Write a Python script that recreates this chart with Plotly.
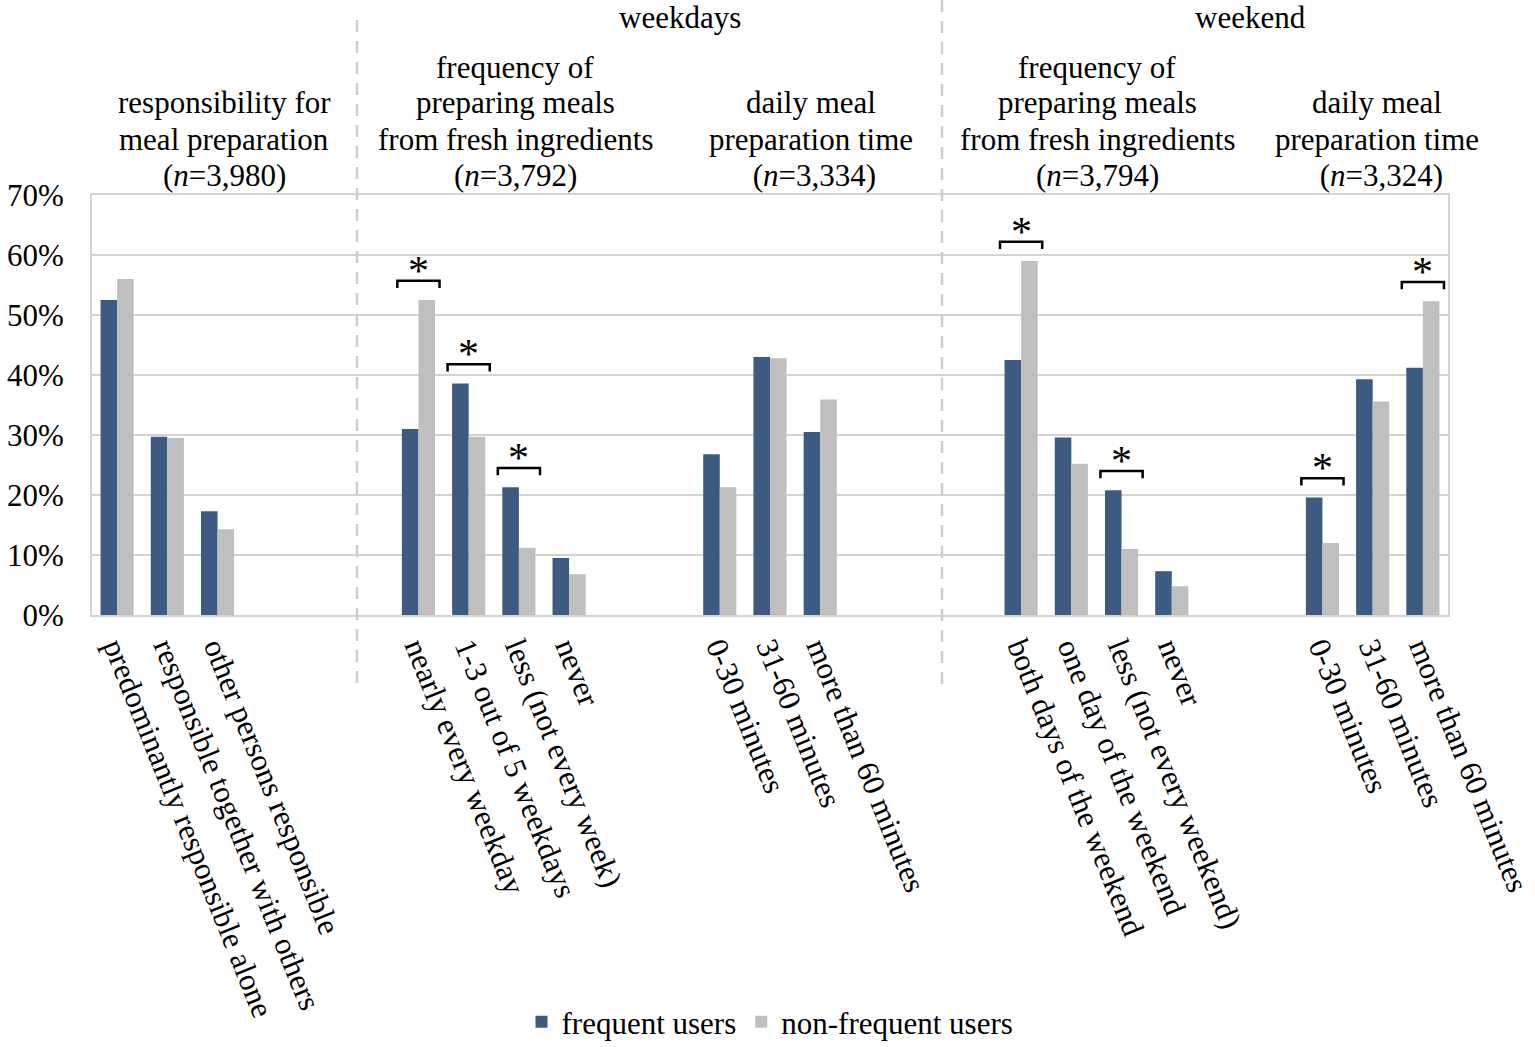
import plotly.graph_objects as go

# ---------------- data ----------------
categories = [
    ["predominantly responsible alone", "responsible together with others", "other persons responsible"],
    ["nearly every weekday", "1-3 out of 5 weekdays", "less (not every week)", "never"],
    ["0-30 minutes", "31-60 minutes", "more than 60 minutes"],
    ["both days of the weekend", "one day of the weekend", "less (not every weekend)", "never"],
    ["0-30 minutes", "31-60 minutes", "more than 60 minutes"],
]
frequent_users = [
    [52.5, 29.7, 17.3],
    [31.0, 38.6, 21.3, 9.5],
    [26.8, 43.0, 30.5],
    [42.5, 29.6, 20.8, 7.3],
    [19.6, 39.3, 41.2],
]
non_frequent_users = [
    [56.0, 29.5, 14.3],
    [52.5, 29.7, 11.2, 6.8],
    [21.3, 42.8, 35.9],
    [59.0, 25.2, 11.0, 4.8],
    [12.0, 35.6, 52.3],
]
significant = [
    [False, False, False],
    [True, True, True, False],
    [False, False, False],
    [True, False, True, False],
    [True, False, True],
]
group_titles = [
    ["responsibility for", "meal preparation", "(<i>n</i>=3,980)"],
    ["frequency of", "preparing meals", "from fresh ingredients", "(<i>n</i>=3,792)"],
    ["daily meal", "preparation time", " (<i>n</i>=3,334)"],
    ["frequency of", "preparing meals", "from fresh ingredients", "(<i>n</i>=3,794)"],
    ["daily meal", "preparation time", " (<i>n</i>=3,324)"],
]
period_titles = ["weekdays", "weekend"]
series_names = ["frequent users", "non-frequent users"]
y_ticks = [0, 10, 20, 30, 40, 50, 60, 70]

# ---------------- layout constants ----------------
W, H = 1535, 1047
PL, PR, PT, PB = 92, 1448, 195, 615
FONT = "Liberation Serif"
FS = 31
BLUE = "#3D5A80"
GREY = "#BFBFBF"
GRID = "#D3D3D3"
group_gaps = [0, 3, 2, 3, 2]  # empty slots before each group

def px_x(px):
    return (px - PL) / (PR - PL)

def px_y(py):
    return (PB - py) / (PB - PT)

# slot positions
positions = []
slot = 0
for g, cats in enumerate(categories):
    slot += group_gaps[g]
    pos = []
    for _ in cats:
        pos.append(slot)
        slot += 1
    positions.append(pos)
n_slots = slot

xs = [p for grp in positions for p in grp]
labels = [c for grp in categories for c in grp]
freq_flat = [v for grp in frequent_users for v in grp]
nonf_flat = [v for grp in non_frequent_users for v in grp]
sig_flat = [s for grp in significant for s in grp]

fig = go.Figure()
fig.add_trace(go.Bar(x=xs, y=freq_flat, name=series_names[0], marker=dict(color=BLUE, line=dict(width=0))))
fig.add_trace(go.Bar(x=xs, y=nonf_flat, name=series_names[1], marker=dict(color=GREY, line=dict(width=0))))

shapes = []
annotations = []

# significance brackets
for x, a, b, s in zip(xs, freq_flat, nonf_flat, sig_flat):
    if not s:
        continue
    top = max(a, b) + 3.2
    hw = 0.42
    shapes.append(dict(
        type="path", xref="x", yref="y",
        path=f"M {x-hw},{top-1.2} L {x-hw},{top} L {x+hw},{top} L {x+hw},{top-1.2}",
        line=dict(color="black", width=2.5),
    ))
    annotations.append(dict(
        x=x, y=top, xref="x", yref="y", text="*", showarrow=False,
        yanchor="middle", yshift=10, font=dict(family=FONT, size=42, color="black"),
    ))

# dashed separators
for xp, ytop in [(357, 20), (942, 0)]:
    shapes.append(dict(
        type="line", xref="paper", yref="paper",
        x0=px_x(xp), x1=px_x(xp), y0=px_y(ytop), y1=px_y(688),
        line=dict(color="#CCCCCC", width=2.5, dash="12px,9px"),
    ))

# group titles
title_centers = [224, 515, 811, 1097, 1377]
line_y = [67, 103, 139, 176]
for cx, lines in zip(title_centers, group_titles):
    offs = 4 - len(lines)
    for i, t in enumerate(lines):
        annotations.append(dict(
            x=px_x(cx), y=px_y(line_y[i + offs]), xref="paper", yref="paper",
            text=t, showarrow=False, xanchor="center", yanchor="middle",
            font=dict(family=FONT, size=FS, color="black"),
        ))
for cx, t in zip([680, 1250], period_titles):
    annotations.append(dict(
        x=px_x(cx), y=px_y(18), xref="paper", yref="paper",
        text=t, showarrow=False, xanchor="center", yanchor="middle",
        font=dict(family=FONT, size=FS, color="black"),
    ))

fig.update_layout(
    width=W, height=H,
    margin=dict(l=PL, r=W - PR, t=PT, b=H - PB, autoexpand=False),
    paper_bgcolor="white", plot_bgcolor="white",
    barmode="group", bargap=0.34, bargroupgap=0,
    font=dict(family=FONT, size=FS, color="black"),
    showlegend=True,
    legend=dict(orientation="h", x=px_x(770), y=px_y(1022), xanchor="center", yanchor="middle",
                font=dict(family=FONT, size=FS, color="black"), traceorder="normal"),
    shapes=shapes, annotations=annotations,
)
fig.update_xaxes(
    range=[-0.5, n_slots - 0.5], tickmode="array", tickvals=xs, ticktext=labels,
    tickangle=68, ticks="", showgrid=False, zeroline=False, automargin=False,
    ticklabeloverflow="allow",
    showline=True, mirror=True, linecolor=GRID, linewidth=2,
    tickfont=dict(family=FONT, size=FS, color="black"),
)
fig.update_yaxes(
    range=[0, 70], tickmode="array", tickvals=y_ticks, ticktext=[f"{v}%" for v in y_ticks],
    showgrid=True, gridcolor=GRID, gridwidth=2, zeroline=False, automargin=False,
    showline=True, mirror=True, linecolor=GRID, linewidth=2, ticks="",
    ticklabelstandoff=20,
    tickfont=dict(family=FONT, size=FS, color="black"),
)

fig.write_html(
    "out.html",
    config={"displayModeBar": False},
    post_script="document.body.style.margin='0';document.body.style.overflow='hidden';",
)
